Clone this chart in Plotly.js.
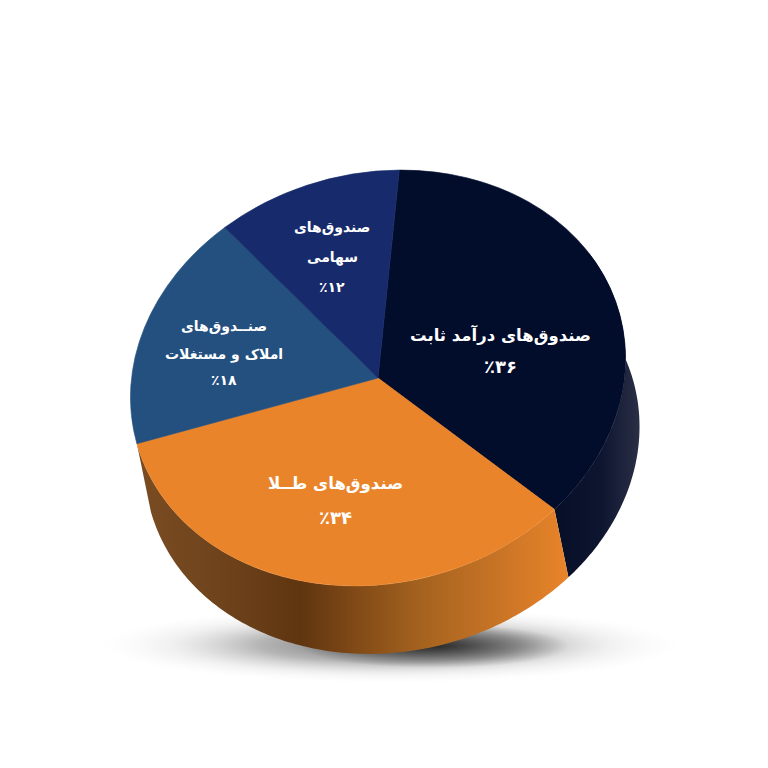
<!DOCTYPE html>
<html lang="fa">
<head>
<meta charset="utf-8">
<script src="https://cdn.plot.ly/plotly-3.0.1.min.js"></script>
<style>html,body{margin:0;padding:0;background:#fff}#chart{width:768px;height:768px}</style>
</head>
<body>
<div id="chart"></div>
<script>
const categories = ['صندوق‌های درآمد ثابت', 'صندوق‌های طلا', 'صندوق‌های املاک و مستغلات', 'صندوق‌های سهامی'];
const shares = [36, 34, 18, 12];
const percentLabels = ['٪۳۶', '٪۳۴', '٪۱۸', '٪۱۲'];
const labelLines = [
  ['صندوق‌های درآمد ثابت', percentLabels[0]],
  ['صندوق‌های طــلا', percentLabels[1]],
  ['صنــدوق‌های', 'املاک و مستغلات', percentLabels[2]],
  ['صندوق‌های', 'سهامی', percentLabels[3]]
];
const sliceColors = ['#020c2b', '#e9842a', '#24507f', '#172b6c'];

// view geometry
const hub = [378, 378];
const M = [242.5, 49.6, -60.5, 198.9];
const startAngle = 16.5;
const depth = [14, 68];
const labelPlace = [
  {x: 500, y: [335, 366], size: [16.5, 18]},
  {x: 335, y: [484, 517], size: [16.5, 18]},
  {x: 224, y: [326, 354, 380], size: [14, 14, 14]},
  {x: 332, y: [227, 257, 287], size: [14, 14, 14]}
];

function rim(deg, shift) {
  const t = deg * Math.PI / 180, u = Math.sin(t), v = -Math.cos(t);
  return [hub[0] + M[0]*u + M[1]*v + (shift ? depth[0] : 0),
          hub[1] + M[2]*u + M[3]*v + (shift ? depth[1] : 0)];
}
function sidePolygon(a0, a1) {
  const top = [], bottom = [], n = 120;
  for (let i = 0; i <= n; i++) {
    const a = a0 + (a1 - a0) * i / n;
    top.push(rim(a, false));
    bottom.unshift(rim(a, true));
  }
  const pts = top.concat(bottom);
  pts.push(pts[0]);
  return {x: pts.map(p => p[0]), y: pts.map(p => p[1])};
}
function softEllipse(cx, cy, rx, ry, stops) {
  const x = [], y = [];
  for (let i = 0; i <= 90; i++) {
    const t = i / 90 * 2 * Math.PI;
    x.push(cx + rx * Math.cos(t));
    y.push(cy + ry * Math.sin(t));
  }
  return {type: 'scatter', mode: 'none', x, y, fill: 'toself', hoverinfo: 'skip', showlegend: false,
          fillgradient: {type: 'radial', colorscale: stops}};
}

const total = shares.reduce((a, b) => a + b, 0);
const boundary = [startAngle];
shares.forEach(v => boundary.push(boundary[boundary.length - 1] + v / total * 360));

const orangeSide = sidePolygon(boundary[1], boundary[2]);
const darkSide = sidePolygon(70, boundary[1]);

const traces = [
  softEllipse(390, 645, 290, 38, [[0, 'rgba(50,50,50,0.75)'], [0.45, 'rgba(90,90,90,0.45)'], [0.75, 'rgba(160,160,160,0.16)'], [1, 'rgba(220,220,220,0)']]),
  softEllipse(435, 646, 135, 22, [[0, 'rgba(20,20,20,0.8)'], [1, 'rgba(40,40,40,0)']]),
  {type: 'scatter', mode: 'none', x: darkSide.x, y: darkSide.y, fill: 'toself', hoverinfo: 'skip', showlegend: false,
   fillgradient: {type: 'horizontal', colorscale: [[0, '#070e26'], [0.55, '#0e1530'], [1, '#2a2f45']]}},
  {type: 'scatter', mode: 'none', x: orangeSide.x, y: orangeSide.y, fill: 'toself', hoverinfo: 'skip', showlegend: false,
   fillgradient: {type: 'horizontal', colorscale: [[0, '#7a4c22'], [0.2, '#6e431c'], [0.38, '#5f3510'], [0.48, '#7a4515'], [0.66, '#a5631f'], [0.85, '#cb7526'], [1, '#e9842a']]}},
  {type: 'pie', labels: categories, values: shares, sort: false, direction: 'clockwise', rotation: startAngle,
   marker: {colors: sliceColors, line: {width: 1, color: sliceColors}}, textinfo: 'none', hoverinfo: 'label+percent', showlegend: false,
   domain: {x: [0, 1], y: [0, 1]}}
];

const annotations = [];
labelLines.forEach((lines, i) => lines.forEach((line, j) => {
  annotations.push({x: labelPlace[i].x, y: labelPlace[i].y[j], xref: 'x', yref: 'y', text: line, showarrow: false,
    xanchor: 'center', yanchor: 'middle',
    font: {family: 'DejaVu Sans', size: labelPlace[i].size[j], color: '#ffffff', weight: 700}});
}));

const layout = {
  width: 768, height: 768, margin: {l: 0, r: 0, t: 0, b: 0},
  paper_bgcolor: '#ffffff', plot_bgcolor: '#ffffff', showlegend: false,
  xaxis: {range: [0, 768], visible: false, fixedrange: true},
  yaxis: {range: [768, 0], visible: false, fixedrange: true},
  annotations
};

Plotly.newPlot('chart', traces, layout, {displayModeBar: false, staticPlot: true}).then(gd => {
  const pie = gd.calcdata.find(c => c[0].trace.type === 'pie')[0];
  const r = pie.r, cx = pie.cx, cy = pie.cy;
  const a = M[0]/r, c = M[1]/r, b = M[2]/r, d = M[3]/r;
  const e = hub[0] - a*cx - c*cy, f = hub[1] - b*cx - d*cy;
  document.querySelector('#chart .pielayer').setAttribute('transform', `matrix(${a} ${b} ${c} ${d} ${e} ${f})`);
});
</script>
</body>
</html>
